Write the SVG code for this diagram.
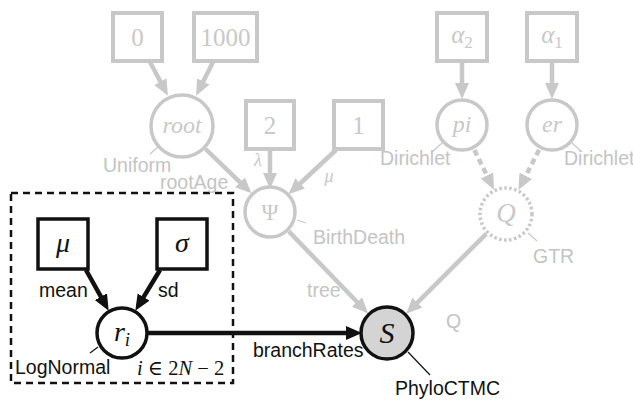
<svg xmlns="http://www.w3.org/2000/svg" width="633" height="401" viewBox="0 0 633 401">
<style>
.gbox{fill:#fff;stroke:#c8c8c8;stroke-width:4}
.gcirc{fill:#fff;stroke:#c8c8c8;stroke-width:3.5}
.bbox{fill:#fff;stroke:#111;stroke-width:3.5}
.bcirc{fill:#fff;stroke:#111;stroke-width:3.5}
.garrow{stroke:#c8c8c8;stroke-width:4.5;fill:none;marker-end:url(#gh)}
.gdash{stroke:#c8c8c8;stroke-width:4.5;fill:none;stroke-dasharray:6 4;marker-end:url(#gh)}
.barrow{stroke:#111;stroke-width:4.5;fill:none;marker-end:url(#bh)}
.gtick{stroke:#c8c8c8;stroke-width:1.2}
.btick{stroke:#111;stroke-width:1.2}
.glab{font-family:"Liberation Sans",Arial,sans-serif;font-size:19.5px;fill:#c4c4c4}
.blab{font-family:"Liberation Sans",Arial,sans-serif;font-size:19.5px;fill:#111}
.gmath{font-family:"Liberation Serif","DejaVu Serif",serif;fill:#c8c8c8;text-anchor:middle}
.bmath{font-family:"Liberation Serif","DejaVu Serif",serif;fill:#111;text-anchor:middle}
.it{font-style:italic}
</style>
<defs>
<marker id="gh" markerUnits="userSpaceOnUse" markerWidth="17" markerHeight="15" refX="6" refY="7" orient="auto">
<path d="M0,0 L16,7 L0,14 z" fill="#c8c8c8"/>
</marker>
<marker id="bh" markerUnits="userSpaceOnUse" markerWidth="17" markerHeight="15" refX="6" refY="7" orient="auto">
<path d="M0,0 L16,7 L0,14 z" fill="#111"/>
</marker>
</defs>

<rect id="plate" x="11" y="193" width="222" height="190" fill="none" stroke="#111" stroke-width="2.5" stroke-dasharray="7 5"/>

<g id="connectors">
<line class="garrow" x1="150" y1="62" x2="163.2" y2="86.9"/>
<line class="garrow" x1="213" y1="62" x2="200.6" y2="86.8"/>
<line class="garrow" x1="205.6" y1="149" x2="244.3" y2="186.4"/>
<line class="garrow" x1="270" y1="150" x2="270" y2="179"/>
<line class="garrow" x1="336" y1="150" x2="295.8" y2="187.5"/>
<line class="garrow" x1="288.8" y1="231.4" x2="361.2" y2="306.3"/>
<line class="garrow" x1="486.2" y1="233.8" x2="413.2" y2="306.8"/>
<line class="garrow" x1="462" y1="62" x2="462" y2="89"/>
<line class="garrow" x1="552" y1="62" x2="552" y2="89"/>
<line class="gdash" x1="474.4" y1="150.1" x2="489.6" y2="180.8"/>
<line class="gdash" x1="539.1" y1="149.9" x2="523" y2="181.1"/>
<line class="barrow" x1="86" y1="270" x2="103.8" y2="301.9"/>
<line class="barrow" x1="160" y1="270" x2="140.5" y2="302.2"/>
<line class="barrow" x1="147" y1="333" x2="352" y2="333"/>
</g>

<g id="ticks">
<line class="gtick" x1="150" y1="154" x2="159" y2="146"/>
<line class="gtick" x1="297" y1="220" x2="306" y2="223"/>
<line class="gtick" x1="442" y1="143" x2="431" y2="153"/>
<line class="gtick" x1="572" y1="143" x2="582" y2="152"/>
<line class="gtick" x1="528" y1="233" x2="537" y2="241"/>
<line class="btick" x1="98" y1="347" x2="90" y2="353"/>
<line class="btick" x1="408" y1="352" x2="430" y2="375"/>
</g>

<g id="n0"><rect class="gbox" x="113" y="13" width="49" height="48"/><text class="gmath" x="137.5" y="46" font-size="25">0</text></g>
<g id="n1000"><rect class="gbox" x="194" y="13" width="63" height="48"/><text class="gmath" x="225.5" y="46" font-size="25">1000</text></g>
<g id="n2"><rect class="gbox" x="246" y="101" width="48" height="48"/><text class="gmath" x="270" y="134" font-size="25">2</text></g>
<g id="n1"><rect class="gbox" x="334" y="101" width="49" height="48"/><text class="gmath" x="358.5" y="134" font-size="25">1</text></g>
<g id="nalpha2"><rect class="gbox" x="437" y="13" width="50" height="48"/><text class="gmath" x="462" y="43" font-size="25"><tspan class="it">α</tspan><tspan font-size="17" dy="5">2</tspan></text></g>
<g id="nalpha1"><rect class="gbox" x="527" y="13" width="50" height="48"/><text class="gmath" x="552" y="43" font-size="25"><tspan class="it">α</tspan><tspan font-size="17" dy="5">1</tspan></text></g>

<g id="nroot"><circle class="gcirc" cx="182" cy="126" r="31"/><text class="gmath it" x="182" y="133" font-size="24">root</text></g>
<g id="npsi"><circle class="gcirc" cx="270" cy="212" r="25"/><text class="gmath" x="270" y="220" font-size="23">Ψ</text></g>
<g id="npi"><circle class="gcirc" cx="462" cy="125" r="25"/><text class="gmath it" x="462" y="132" font-size="24">pi</text></g>
<g id="ner"><circle class="gcirc" cx="552" cy="125" r="25"/><text class="gmath it" x="552" y="132" font-size="24">er</text></g>
<g id="nQ"><circle cx="506" cy="214" r="26" fill="#fff" stroke="#c8c8c8" stroke-width="3.5" stroke-dasharray="2.5 2.5"/><text class="gmath it" x="506" y="222" font-size="27">Q</text></g>

<g id="nmu"><rect class="bbox" x="38" y="219" width="50" height="50"/><text class="bmath it" x="63" y="252" font-size="28">μ</text></g>
<g id="nsigma"><rect class="bbox" x="157" y="219" width="50" height="50"/><text class="bmath it" x="182" y="252" font-size="28">σ</text></g>
<g id="nri"><circle class="bcirc" cx="122" cy="333" r="25"/><text class="bmath" x="122" y="341" font-size="28"><tspan class="it">r</tspan><tspan class="it" font-size="19" dy="5">i</tspan></text></g>
<g id="nS"><circle cx="387" cy="333" r="26" fill="#d4d4d4" stroke="#111" stroke-width="3.5"/><text class="bmath it" x="387" y="343" font-size="30">S</text></g>

<g id="labels">
<text class="glab" x="103" y="172">Uniform</text>
<text class="glab" x="160" y="189">rootAge</text>
<text class="gmath it" x="258" y="166" font-size="18">λ</text>
<text class="gmath it" x="329" y="182" font-size="18">μ</text>
<text class="glab" x="313" y="244">BirthDeath</text>
<text class="glab" x="380" y="165">Dirichlet</text>
<text class="glab" x="564" y="165">Dirichlet</text>
<text class="glab" x="533" y="263">GTR</text>
<text class="glab" x="307" y="297">tree</text>
<text class="glab" x="446" y="328">Q</text>
<text class="blab" x="39" y="297">mean</text>
<text class="blab" x="158" y="297">sd</text>
<text class="blab" x="15" y="374">LogNormal</text>
<text class="blab" x="253" y="357">branchRates</text>
<text class="blab" x="395" y="395">PhyloCTMC</text>
<text x="137" y="375" font-family="Liberation Serif,DejaVu Serif,serif" font-size="20.5" fill="#111"><tspan font-style="italic">i</tspan> ∈ 2<tspan font-style="italic">N</tspan> − 2</text>
</g>
</svg>
